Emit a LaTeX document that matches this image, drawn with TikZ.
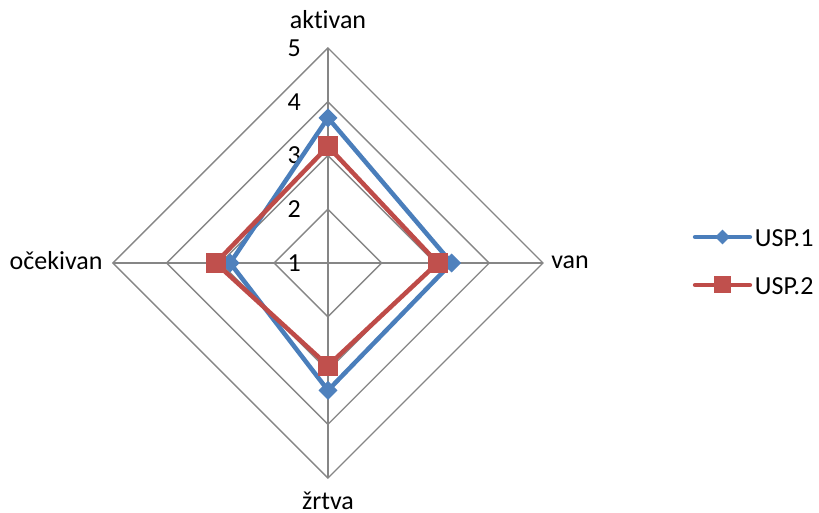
\documentclass[tikz,border=0pt]{standalone}
\usepackage{fontspec}
\setmainfont{Carlito}[Ligatures=NoCommon]
\usetikzlibrary{shapes.geometric}
\definecolor{gridgray}{HTML}{868686}
\definecolor{uspblue}{HTML}{4A7EBB}
\definecolor{uspbluefill}{HTML}{4F81BD}
\definecolor{uspred}{HTML}{BE4B48}
\definecolor{uspredfill}{HTML}{C0504D}
\tikzset{
  gridline/.style={draw=gridgray, line width=1.4pt},
  ser1/.style={draw=uspblue, line width=4.5pt, line join=round, line cap=round},
  ser2/.style={draw=uspred, line width=4.5pt, line join=round, line cap=round},
  mk1/.style={diamond, aspect=1, fill=uspbluefill, inner sep=0pt, minimum width=19pt, minimum height=19pt},
  mk2/.style={rectangle, fill=uspredfill, inner sep=0pt, minimum size=20pt},
  lbl/.style={font=\fontsize{26}{31}\selectfont, inner sep=0pt}
}
\begin{document}
\begin{tikzpicture}[x=53.75pt, y=53.75pt]
\useasboundingbox (-6.102,-4.633) rectangle (9.135,4.893);

% grid
\coordinate (c) at (0,0);
\coordinate (t) at (0,4);
\coordinate (r) at (4,0);
\coordinate (b) at (0,-4);
\coordinate (l) at (-4,0);
\draw[gridline] (0,1)--(1,0)--(0,-1)--(-1,0)--cycle;
\draw[gridline] (0,2)--(2,0)--(0,-2)--(-2,0)--cycle;
\draw[gridline] (0,3)--(3,0)--(0,-3)--(-3,0)--cycle;
\draw[gridline] (t)--(r)--(b)--(l)--cycle;
\draw[gridline] (c)--(t);
\draw[gridline] (c)--(r);
\draw[gridline] (c)--(b);
\draw[gridline] (c)--(l);

% axis labels
\node[lbl, anchor=base] (akt) at (0,4.37) {aktivan};
\node[lbl, anchor=base west] (van) at (4.15,-0.11) {van};
\node[lbl, anchor=base] (zrt) at (0,-4.58) {žrtva};
\node[lbl, anchor=base east] (oce) at (-4.19,-0.13) {očekivan};

\node[lbl, anchor=east] (n1) at (-0.5,0) {1};
\node[lbl, anchor=east] (n2) at (-0.5,1) {2};
\node[lbl, anchor=east] (n3) at (-0.5,2) {3};
\node[lbl, anchor=east] (n4) at (-0.5,3) {4};
\node[lbl, anchor=east] (n5) at (-0.5,4) {5};

% USP.1
\coordinate (a1) at (0,2.70);
\coordinate (v1) at (2.30,0);
\coordinate (z1) at (0,-2.37);
\coordinate (o1) at (-1.82,0);
\draw[ser1] (a1)--(v1)--(z1)--(o1)--cycle;
\node[mk1] (pa1) at (a1) {};
\node[mk1] (pv1) at (v1) {};
\node[mk1] (pz1) at (z1) {};
\node[mk1] (po1) at (o1) {};

% USP.2
\coordinate (a2) at (0,2.17);
\coordinate (v2) at (2.04,0);
\coordinate (z2) at (0,-1.91);
\coordinate (o2) at (-2.09,0);
\draw[ser2] (a2)--(v2)--(z2)--(o2)--cycle;
\node[mk2] (pa2) at (a2) {};
\node[mk2] (pv2) at (v2) {};
\node[mk2] (pz2) at (z2) {};
\node[mk2] (po2) at (o2) {};

% legend
\coordinate (k1a) at (6.83,0.484);
\coordinate (k1b) at (7.85,0.484);
\draw[ser1] (k1a)--(k1b);
\node[mk1, minimum width=15pt, minimum height=15pt] (k1m) at (7.34,0.484) {};
\node[lbl, anchor=base west] (k1) at (7.94,0.298) {USP.1};

\coordinate (k2a) at (6.83,-0.409);
\coordinate (k2b) at (7.85,-0.409);
\draw[ser2] (k2a)--(k2b);
\node[mk2, minimum size=17pt] (k2m) at (7.34,-0.409) {};
\node[lbl, anchor=base west] (k2) at (7.94,-0.595) {USP.2};
\end{tikzpicture}
\end{document}
